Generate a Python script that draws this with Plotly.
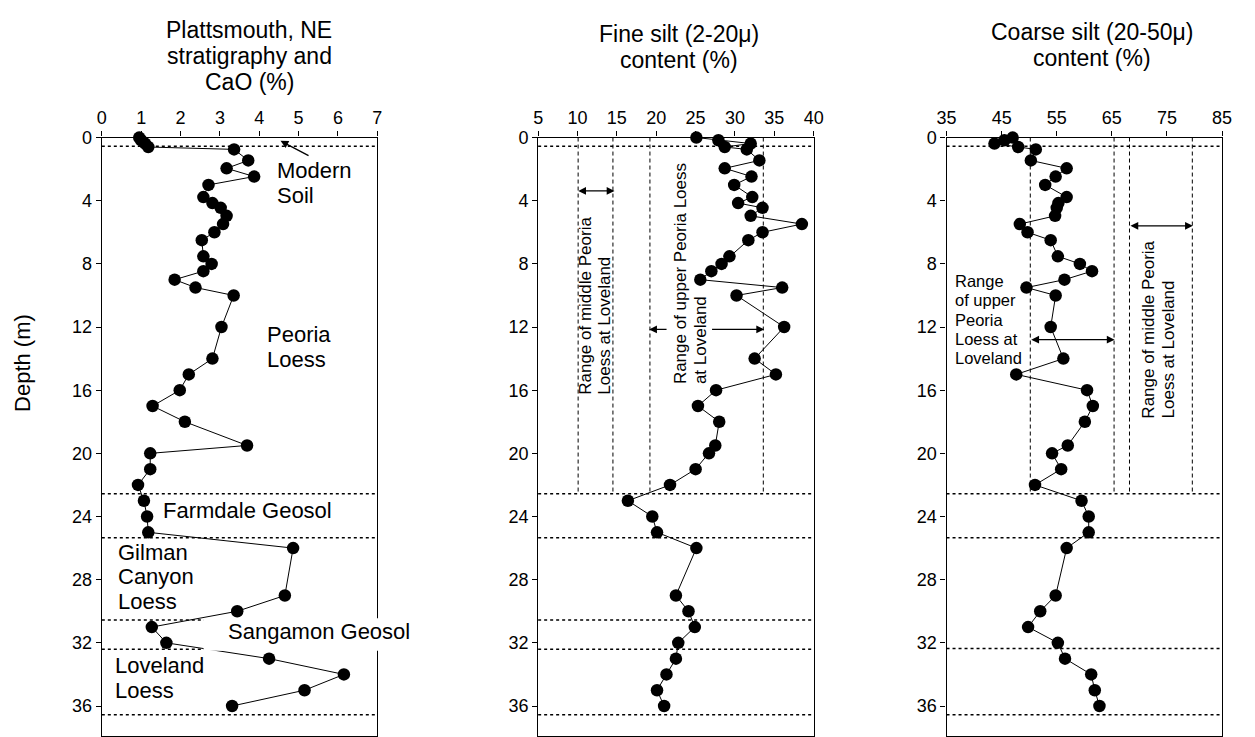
import plotly.graph_objects as go

W, H = 1255, 737
FONT = "Liberation Sans, Arial, sans-serif"

# ---------------- data ----------------
depth_m = [0.0, 0.17, 0.38, 0.6, 0.75, 1.45, 1.95, 2.47, 3.0, 3.77, 4.15, 4.45, 4.96, 5.48,
           6.0, 6.5, 7.52, 8.0, 8.46, 9.0, 9.5, 10.0,
           12.0, 14.0, 15.0, 16.0, 17.0, 18.0, 19.5, 20.0, 21.0, 22.0, 23.0, 24.0,
           25.0, 26.0, 29.0, 30.0, 31.0, 32.0, 33.0, 34.0, 35.0, 36.0]

cao_pct = [0.95, 1.0, 1.1, 1.18, 3.36, 3.72, 3.17, 3.87, 2.71, 2.58, 2.81, 3.02, 3.17, 3.08,
           2.86, 2.54, 2.58, 2.79, 2.58, 1.85, 2.38, 3.35,
           3.04, 2.81, 2.21, 1.98, 1.29, 2.11, 3.69, 1.23, 1.23, 0.92, 1.07, 1.15,
           1.18, 4.86, 4.65, 3.44, 1.27, 1.64, 4.25, 6.15, 5.15, 3.31]

fine_silt_pct = [25.1, 27.9, 32.0, 28.7, 31.5, 33.1, 28.7, 32.1, 29.9, 32.2, 30.4, 33.5, 32.0, 38.5,
                 33.5, 31.7, 29.3, 28.3, 27.0, 25.6, 36.0, 30.2,
                 36.25, 32.5, 35.2, 27.6, 25.3, 28.0, 27.5, 26.7, 25.0, 21.75, 16.4, 19.5,
                 20.1, 25.1, 22.5, 24.1, 24.9, 22.8, 22.5, 21.3, 20.1, 21.0]

coarse_silt_pct = [47.0, 45.5, 43.7, 48.0, 51.2, 50.3, 56.8, 54.8, 52.9, 56.8, 55.3, 55.0, 54.7, 48.3,
                   49.7, 53.9, 55.2, 59.2, 61.4, 56.4, 49.5, 54.8,
                   53.9, 56.2, 47.65, 60.5, 61.55, 60.1, 57.0, 54.15, 55.8, 51.05, 59.5, 60.8,
                   60.8, 56.8, 54.8, 52.0, 49.8, 55.2, 56.5, 61.25, 61.9, 62.75]

cao_ticks = [0, 1, 2, 3, 4, 5, 6, 7]
fine_ticks = [5, 10, 15, 20, 25, 30, 35, 40]
coarse_ticks = [35, 45, 55, 65, 75, 85]
depth_ticks = [0, 4, 8, 12, 16, 20, 24, 28, 32, 36]

# stratigraphic boundaries (m)
bounds_p1 = [0.55, 22.55, 25.35, 30.55, 32.4, 36.55]
bounds_p2 = [0.55, 22.55, 25.35, 30.55, 32.4, 36.55]
bounds_p3 = [0.55, 22.55, 25.35, 32.35, 36.55]

# Loveland ranges (vertical dashed lines) and their lower limit
fine_ranges = [10.08, 14.5, 19.2, 33.6]
coarse_ranges = [50.2, 65.4, 68.2, 79.6]
range_bottom = 22.55

# ---------------- layout geometry ----------------
X_DOMS = [(93.3, 373.3), (536.7, 816.7), (951.7, 1231.7)]
Y_TOP, Y_BOT = 129.3, 736.0
Y_MAX = 37.9
ydom = [1 - Y_BOT / H, 1 - Y_TOP / H]


def py(px):
    return 1 - px / H


def yp(depth):
    return ydom[1] - depth / Y_MAX * (ydom[1] - ydom[0])


fig = go.Figure()
series = [cao_pct, fine_silt_pct, coarse_silt_pct]
for i, vals in enumerate(series):
    sfx = "" if i == 0 else str(i + 1)
    fig.add_trace(go.Scatter(
        x=vals, y=depth_m, xaxis="x" + sfx, yaxis="y" + sfx,
        mode="lines+markers", cliponaxis=False,
        marker=dict(size=12.5, color="black"),
        line=dict(color="black", width=1),
        showlegend=False, hoverinfo="skip"))

tickfont = dict(family=FONT, size=18, color="black")
common = dict(showline=True, linecolor="black", linewidth=1.2, mirror=True,
              ticks="outside", ticklen=5, tickwidth=1.2, tickcolor="black",
              showgrid=False, zeroline=False, tickfont=tickfont)

x_ranges = [[0, 7], [5, 40], [35, 85]]
x_ticks = [cao_ticks, fine_ticks, coarse_ticks]
lay = {}
for i in range(3):
    sfx = "" if i == 0 else str(i + 1)
    lay["xaxis" + sfx] = dict(domain=[X_DOMS[i][0] / W, X_DOMS[i][1] / W],
                              range=x_ranges[i], tickvals=x_ticks[i], side="top",
                              anchor="y" + sfx, **common)
    lay["yaxis" + sfx] = dict(domain=ydom, range=[Y_MAX, 0], tickvals=depth_ticks,
                              anchor="x" + sfx, **common)

shapes = []
for i, bl in enumerate([bounds_p1, bounds_p2, bounds_p3]):
    sfx = "" if i == 0 else str(i + 1)
    for b in bl:
        shapes.append(dict(type="line", xref="x" + sfx + " domain", x0=0, x1=1,
                           yref="y" + sfx, y0=b, y1=b,
                           line=dict(color="black", width=1.5, dash="dot")))
for v in fine_ranges:
    shapes.append(dict(type="line", xref="x2", x0=v, x1=v, yref="y2", y0=0, y1=range_bottom,
                       line=dict(color="black", width=1, dash="4px,3px")))
for v in coarse_ranges:
    shapes.append(dict(type="line", xref="x3", x0=v, x1=v, yref="y3", y0=0, y1=range_bottom,
                       line=dict(color="black", width=1, dash="4px,3px")))
# white box behind "Sangamon Geosol"
shapes.append(dict(type="rect", xref="paper", yref="paper", layer="above",
                   x0=196.7 / W, x1=404 / W, y0=yp(32.5), y1=yp(30.45),
                   fillcolor="white", line=dict(width=0)))

ann = []


def txt(text, x, y, xref, yref, size=22, xanchor="left", yanchor="middle", angle=0, align="left"):
    ann.append(dict(text=text, x=x, y=y, xref=xref, yref=yref, showarrow=False,
                    xanchor=xanchor, yanchor=yanchor, textangle=angle, align=align,
                    borderpad=0,
                    font=dict(family=FONT, size=size, color="black")))


def arrow(x, y, ax, ay, xref, yref, both=False):
    ann.append(dict(text="", x=x, y=y, ax=ax, ay=ay, xref=xref, yref=yref,
                    axref=xref, ayref=yref, showarrow=True, arrowhead=2,
                    arrowsize=1.2, arrowwidth=1.3, arrowcolor="black",
                    arrowside="end+start" if both else "end",
                    standoff=0, startstandoff=0))


def vtext(lines, xs, bottom, xref, yref, size=17):
    for t, x in zip(lines, xs):
        txt(t, x, bottom, xref, yref, size=size, xanchor="center", yanchor="bottom", angle=-90)


# panel 1 labels
for t, d in [("Modern", 2.1), ("Soil", 3.66)]:
    txt(t, 4.42, d, "x", "y")
for t, d in [("Peoria", 12.5), ("Loess", 14.06)]:
    txt(t, 4.17, d, "x", "y")
txt("Farmdale Geosol", 1.54, 23.6, "x", "y")
for t, d in [("Gilman", 26.25), ("Canyon", 27.81), ("Loess", 29.37)]:
    txt(t, 0.375, d, "x", "y")
txt("Sangamon Geosol", 3.17, 31.3, "x", "y")
for t, d in [("Loveland", 33.45), ("Loess", 35.01)]:
    txt(t, 0.31, d, "x", "y")
arrow(4.54, 0.21, 5.29, 1.19, "x", "y")

# panel 2 labels
vtext(["Range of middle Peoria", "Loess at Loveland"], [11.0, 13.4], 16.33, "x2", "y2")
vtext(["Range of upper Peoria Loess", "at Loveland"], [23.1, 25.7], 15.67, "x2", "y2")
arrow(14.7, 3.38, 9.9, 3.38, "x2", "y2", both=True)
arrow(19.1, 12.15, 21.5, 12.15, "x2", "y2")
arrow(33.7, 12.15, 26.9, 12.15, "x2", "y2")

# panel 3 labels
vtext(["Range of middle Peoria", "Loess at Loveland"], [71.6, 75.2], 17.85, "x3", "y3")
for t, d in [("Range", 9.1), ("of upper", 10.31), ("Peoria", 11.56), ("Loess at", 12.76),
             ("Loveland", 13.97)]:
    txt(t, 36.3, d, "x3", "y3", size=16.5)
arrow(79.7, 5.59, 68.1, 5.59, "x3", "y3", both=True)
arrow(65.5, 12.8, 50.1, 12.8, "x3", "y3", both=True)

# titles
for t, yy in [("Plattsmouth, NE", 20.7), ("stratigraphy and", 47), ("CaO (%)", 73.3)]:
    txt(t, 243 / W, py(yy), "paper", "paper", size=23, xanchor="center")
for t, yy in [("Fine silt (2-20\u03bc)", 24), ("content (%)", 50.3)]:
    txt(t, 680 / W, py(yy), "paper", "paper", size=23, xanchor="center")
for t, yy in [("Coarse silt (20-50\u03bc)", 22), ("content (%)", 48.3)]:
    txt(t, 1100 / W, py(yy), "paper", "paper", size=23, xanchor="center")

txt("Depth (m)", 12 / W, py(358), "paper", "paper", size=22, xanchor="center", angle=-90)

fig.update_layout(width=W, height=H, margin=dict(l=0, r=0, t=0, b=0),
                  paper_bgcolor="white", plot_bgcolor="white",
                  shapes=shapes, annotations=ann, showlegend=False, **lay)

fig.write_html("out.html")
